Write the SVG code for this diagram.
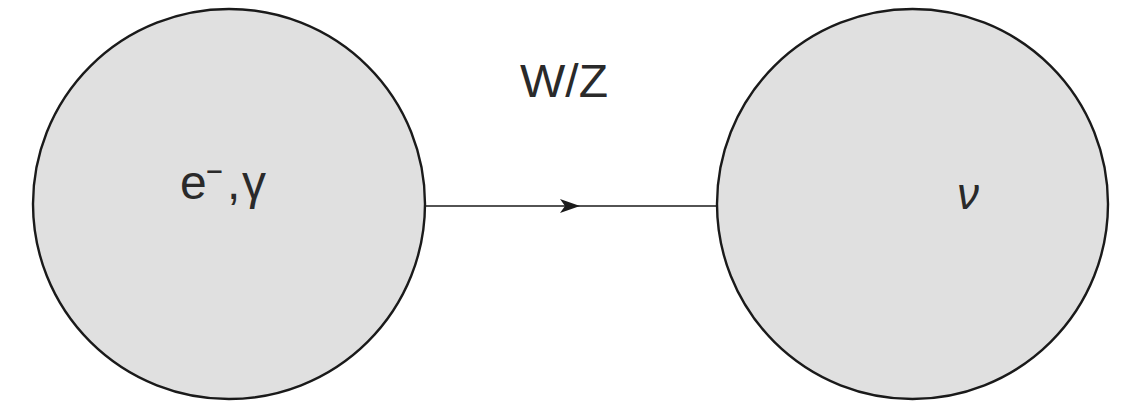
<svg xmlns="http://www.w3.org/2000/svg" width="1127" height="405" viewBox="0 0 1127 405">
<style>
.node{fill:#e0e0e0;stroke:#1a1a1a;stroke-width:2.4}
.lbl{font-family:"Liberation Sans",Arial,sans-serif;fill:#2a2a2a}
.edge{stroke:#1a1a1a;stroke-width:1.6;fill:none}
</style>
<defs>
<marker id="arr" markerWidth="20" markerHeight="14" refX="10" refY="7" orient="auto" markerUnits="userSpaceOnUse">
<path d="M0,0 L20,7 L0,14 L5,7 Z" fill="#1a1a1a"/>
</marker>
</defs>
<rect width="1127" height="405" fill="#ffffff"/>
<g id="connectors">
<line class="edge" x1="425" y1="206" x2="570" y2="206" marker-end="url(#arr)"/>
<line class="edge" x1="570" y1="206" x2="718" y2="206"/>
<text class="lbl" x="520" y="97" font-size="47" textLength="88" lengthAdjust="spacingAndGlyphs">W/Z</text>
</g>
<g id="node-left">
<ellipse class="node" cx="229" cy="204" rx="196" ry="195"/>
<text class="lbl" y="199" font-size="48"><tspan x="180">e</tspan><tspan x="206" y="183" font-size="34" textLength="17" lengthAdjust="spacingAndGlyphs">−</tspan><tspan x="227" y="199">,</tspan><tspan x="242" y="199">γ</tspan></text>
</g>
<g id="node-right">
<ellipse class="node" cx="912.5" cy="204" rx="195.5" ry="195"/>
<text class="lbl" x="957" y="209" font-size="44" font-style="italic">ν</text>
</g>
</svg>
